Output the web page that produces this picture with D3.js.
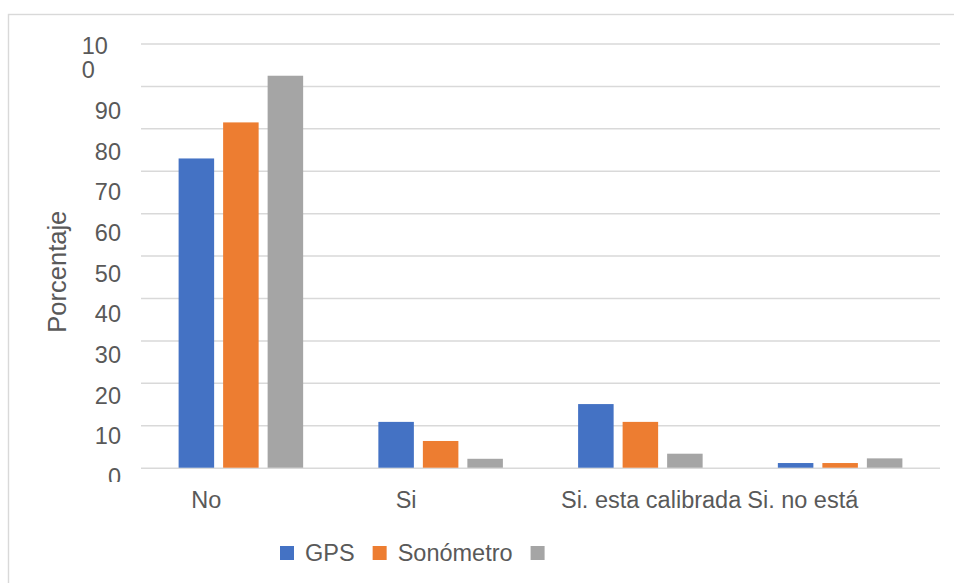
<!DOCTYPE html>
<html>
<head>
<meta charset="utf-8">
<script src="https://cdn.jsdelivr.net/npm/d3@7"></script>
<style>
  html, body { margin: 0; padding: 0; background: #fff; }
  svg { display: block; }
  text { font-family: "Liberation Sans", Arial, sans-serif; fill: #595959; }
</style>
</head>
<body>
<svg id="chart" width="954" height="583"></svg>
<script>
// ---- data ----
const categories = ["No", "Si", "Si. esta calibrada", "Si. no está"];
const seriesNames = ["GPS", "Sonómetro", ""];
const gpsValues = [72.9, 10.8, 15.0, 1.1];
const sonometroValues = [81.4, 6.3, 10.8, 1.1];
const grayValues = [92.4, 2.1, 3.3, 2.2];
const yTicks = [0, 10, 20, 30, 40, 50, 60, 70, 80, 90, 100];
const yTitle = "Porcentaje";

const seriesValues = [gpsValues, sonometroValues, grayValues];
const colors = ["#4472C4", "#ED7D31", "#A5A5A5"];

const svg = d3.select("#chart");
const W = 954, H = 583;
const plot = { left: 141, right: 940, top: 43.5, bottom: 467.7 };
const fs = 23.5;

// outer chart border (only top/left visible in frame)
svg.append("rect")
  .attr("x", 8.5).attr("y", 14.5)
  .attr("width", 980).attr("height", 620)
  .attr("fill", "#fff").attr("stroke", "#d9d9d9").attr("stroke-width", 1.4);

const x = d3.scaleBand().domain(categories).range([plot.left, plot.right]).padding(0);
const xInner = d3.scaleBand().domain(d3.range(seriesNames.length))
  .range([0, x.bandwidth()]).paddingInner(0.202).paddingOuter(0.845);
const y = d3.scaleLinear().domain([0, 100]).range([plot.bottom, plot.top]);
// tick labels in the reference sit on a slightly compressed, shifted scale
const yLab = d3.scaleLinear().domain([0, 100]).range([476.3, 70]);

// gridlines
const grid = svg.append("g")
  .attr("transform", `translate(${plot.left},0)`)
  .call(d3.axisLeft(y).tickValues(yTicks).tickSize(-(plot.right - plot.left)).tickFormat(""));
grid.select(".domain").remove();
grid.selectAll(".tick line").attr("stroke", "#d9d9d9").attr("stroke-width", 1.5);

// bars
const rows = categories.map((c, i) => ({ cat: c, vals: seriesValues.map(s => s[i]) }));
const groups = svg.append("g").selectAll("g").data(rows).join("g")
  .attr("transform", d => `translate(${x(d.cat)},0)`);
groups.selectAll("rect").data(d => d.vals.map((v, k) => ({ v, k }))).join("rect")
  .attr("x", d => xInner(d.k))
  .attr("width", xInner.bandwidth())
  .attr("y", d => y(d.v))
  .attr("height", d => y(0) - y(d.v))
  .attr("fill", d => colors[d.k]);

// y tick labels (clipped at bottom like the reference)
svg.append("clipPath").attr("id", "ylabclip")
  .append("rect").attr("x", 0).attr("y", 0).attr("width", 135).attr("height", 482);
const yAxisG = svg.append("g").attr("clip-path", "url(#ylabclip)");
const labRight = 121;
yTicks.forEach(t => {
  const txt = yAxisG.append("text")
    .attr("font-size", fs)
    .attr("text-anchor", "end")
    .attr("x", labRight)
    .attr("y", yLab(t))
    .attr("dy", "0.36em")
    .text(String(t));
  if (t === 100) {
    // wrapped label: "10" over "0", left-aligned where "100" would start
    const w = txt.node().getComputedTextLength();
    const s = String(t);
    txt.text(null).attr("text-anchor", "start").attr("x", labRight - w);
    txt.append("tspan").attr("x", labRight - w).attr("dy", "-0.7em").text(s.slice(0, 2));
    txt.append("tspan").attr("x", labRight - w).attr("dy", "1.06em").text(s.slice(2));
  }
});

// y axis title
svg.append("text")
  .attr("font-size", 25.5)
  .attr("text-anchor", "middle")
  .attr("transform", `translate(65.5,271.7) rotate(-90)`)
  .text(yTitle);

// x category labels
const xLabY = 508;
categories.forEach((c, i) => {
  const t = svg.append("text").attr("font-size", fs).attr("y", xLabY).text(c);
  if (i < 2) {
    t.attr("text-anchor", "middle").attr("x", x(c) + x.bandwidth() / 2 - 34.5);
  } else if (i === 2) {
    t.attr("text-anchor", "end").attr("x", x(categories[3]) + 1);
  } else {
    t.attr("text-anchor", "start").attr("x", x(c) + 7);
  }
});

// legend
const legend = svg.append("g");
let lx = 280;
const ly = 546, sq = 14;
seriesNames.forEach((name, k) => {
  legend.append("rect").attr("x", lx).attr("y", ly).attr("width", sq).attr("height", sq).attr("fill", colors[k]);
  const t = legend.append("text").attr("font-size", fs).attr("x", lx + sq + 11).attr("y", 561).text(name);
  const w = name ? t.node().getComputedTextLength() : 0;
  lx = lx + sq + 11 + w + 18;
});
</script>
</body>
</html>
